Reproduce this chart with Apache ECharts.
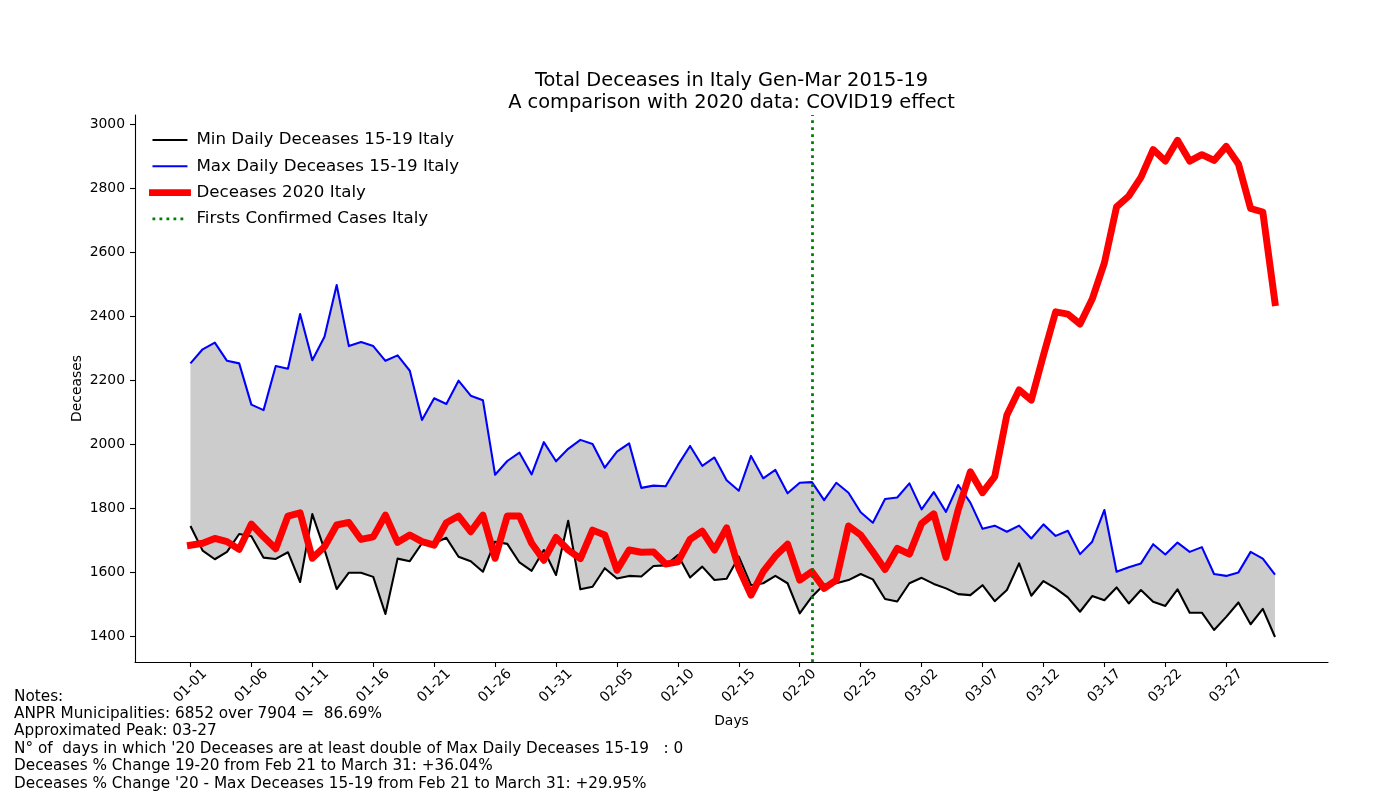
<!DOCTYPE html>
<html>
<head>
<meta charset="utf-8">
<script src="https://cdn.jsdelivr.net/npm/echarts@6/dist/echarts.min.js"></script>
<style>html,body{margin:0;padding:0;background:#fff}#c{width:1400px;height:800px}</style>
</head>
<body>
<div id="c"></div>
<script>
const days = ['01-01','01-02','01-03','01-04','01-05','01-06','01-07','01-08','01-09','01-10',
'01-11','01-12','01-13','01-14','01-15','01-16','01-17','01-18','01-19','01-20',
'01-21','01-22','01-23','01-24','01-25','01-26','01-27','01-28','01-29','01-30','01-31',
'02-01','02-02','02-03','02-04','02-05','02-06','02-07','02-08','02-09','02-10',
'02-11','02-12','02-13','02-14','02-15','02-16','02-17','02-18','02-19','02-20',
'02-21','02-22','02-23','02-24','02-25','02-26','02-27','02-28',
'03-01','03-02','03-03','03-04','03-05','03-06','03-07','03-08','03-09','03-10',
'03-11','03-12','03-13','03-14','03-15','03-16','03-17','03-18','03-19','03-20',
'03-21','03-22','03-23','03-24','03-25','03-26','03-27','03-28','03-29','03-30','03-31'];

const minDaily = [1744,1667,1640,1663,1719,1712,1645,1641,1662,1569,
1781,1670,1547,1598,1598,1585,1469,1642,1634,1690,
1690,1707,1648,1634,1601,1695,1688,1630,1604,1669,
1591,1760,1546,1554,1612,1580,1588,1586,1619,1621,
1653,1583,1617,1575,1579,1648,1559,1565,1588,1565,
1471,1523,1561,1565,1575,1594,1577,1516,1508,1565,
1582,1563,1549,1531,1528,1559,1509,1544,1627,1526,
1572,1549,1521,1476,1525,1512,1552,1502,1544,1507,
1494,1546,1473,1473,1419,1460,1505,1437,1485,1397];

const maxDaily = [2252,2296,2317,2260,2252,2123,2106,2244,2235,2406,
2262,2335,2497,2306,2319,2306,2260,2277,2229,2075,
2143,2125,2198,2151,2137,1904,1947,1973,1905,2006,
1946,1985,2013,2000,1926,1976,2002,1863,1870,1868,
1934,1994,1932,1958,1887,1854,1963,1893,1919,1846,
1879,1881,1825,1879,1848,1787,1754,1828,1833,1877,
1796,1850,1788,1872,1817,1735,1745,1726,1745,1705,
1749,1713,1729,1656,1695,1794,1601,1615,1627,1687,
1655,1692,1663,1678,1594,1588,1599,1663,1642,1592];

const deceases2020 = [1684,1690,1705,1695,1671,1750,1710,1673,1775,1785,
1643,1679,1747,1755,1702,1710,1778,1693,1716,1695,
1684,1754,1775,1726,1778,1643,1775,1775,1690,1637,
1708,1669,1642,1731,1716,1606,1669,1662,1663,1625,
1632,1702,1728,1669,1738,1612,1528,1601,1650,1687,
1575,1601,1549,1575,1744,1716,1663,1608,1674,1656,
1752,1782,1646,1794,1913,1848,1898,2091,2169,2137,
2278,2413,2406,2375,2453,2566,2741,2775,2833,2920,
2884,2949,2884,2904,2886,2930,2875,2736,2725,2442];

const firstCasesDay = '02-21';
const yTicks = [1400,1600,1800,2000,2200,2400,2600,2800,3000];
const xTickIdx = days.map((d,i)=>i).filter(i => i % 5 === 0 && i <= 85);

const titleLines = ['Total Deceases in Italy Gen-Mar 2015-19','A comparison with 2020 data: COVID19 effect'];
const notes = ['Notes:',
'ANPR Municipalities: 6852 over 7904 =  86.69%',
'Approximated Peak: 03-27',
"N\u00b0 of  days in which '20 Deceases are at least double of Max Daily Deceases 15-19   : 0",
'Deceases % Change 19-20 from Feb 21 to March 31: +36.04%',
"Deceases % Change '20 - Max Deceases 15-19 from Feb 21 to March 31: +29.95%"];

const FONT = 'DejaVu Sans';
const pts = arr => arr.map((v,i)=>[i,v]);
const chart = echarts.init(document.getElementById('c'), null, {renderer:'canvas'});
const firstIdx = days.indexOf(firstCasesDay);
const hidden = {opacity: 0, color: 'rgba(0,0,0,0)', borderWidth: 0};

chart.setOption({
  animation: false,
  backgroundColor: '#fff',
  textStyle: {fontFamily: FONT},
  grid: {left: 135, right: 72, top: 115, bottom: 138, containLabel: false},
  graphic: [
    {type:'text', x: 731.5, y: 92, style: {text: titleLines.join('\n'), fill:'#000', font: '19.4px "DejaVu Sans"', align:'center', verticalAlign:'middle', lineHeight: 22.5}},
    {type:'text', x: 14, y: 688, style: {text: notes.join('\n'), fill:'#000', font: '15.28px "DejaVu Sans"', align:'left', verticalAlign:'top', lineHeight: 17.4}}
  ],
  legend: {
    left: 149, top: 130, padding: 0, orient: 'vertical', itemWidth: 35, itemHeight: 12, itemGap: 6.3,
    itemStyle: hidden,
    data: [
      {name:'Min Daily Deceases 15-19 Italy', itemStyle: hidden, lineStyle:{width:2.08, color:'#000'}},
      {name:'Max Daily Deceases 15-19 Italy', itemStyle: hidden, lineStyle:{width:2.08, color:'#0000ff'}},
      {name:'Deceases 2020 Italy', itemStyle: hidden, lineStyle:{width:6.94, color:'#ff0000'}},
      {name:'Firsts Confirmed Cases Italy', itemStyle: hidden, lineStyle:{width:2.78, color:'#008000', type:[2.8,4.2]}}
    ],
    textStyle: {fontFamily: FONT, fontSize: 16.67, color:'#000', lineHeight: 20, padding:[0,0,0,4]},
    selectedMode: false
  },
  xAxis: {
    type: 'value', min: -4.55, max: 93.35,
    name: 'Days', nameLocation: 'middle', nameGap: 52,
    nameTextStyle: {fontFamily: FONT, fontSize: 13.9, color:'#000'},
    axisLine: {show: true, onZero: false, lineStyle: {color:'#000', width: 1.1}},
    axisTick: {show: true, customValues: xTickIdx, length: 5, lineStyle: {color:'#000', width: 1.1}},
    axisLabel: {show: true, customValues: xTickIdx, formatter: v => days[Math.round(v)] || '',
      rotate: 45, align: 'center', verticalAlign: 'middle', margin: 24,
      fontFamily: FONT, fontSize: 13.9, color:'#000'},
    splitLine: {show: false}
  },
  yAxis: {
    type: 'value', min: 1319, max: 3028,
    name: 'Deceases', nameLocation: 'middle', nameGap: 51, nameRotate: 90, nameMoveOverlap: false,
    nameTextStyle: {fontFamily: FONT, fontSize: 13.9, color:'#000'},
    axisLine: {show: true, onZero: false, lineStyle: {color:'#000', width: 1.1}},
    axisTick: {show: true, customValues: yTicks, length: 5, lineStyle: {color:'#000', width: 1.1}},
    axisLabel: {show: true, customValues: yTicks, formatter: v => String(v), margin: 10, fontFamily: FONT, fontSize: 13.9, color:'#000'},
    splitLine: {show: false}
  },
  series: [
    {name:'band', type:'custom', silent:true, z:1,
      data: maxDaily.map((v,i)=>[i, minDaily[i], v]),
      encode: {x: 0, y: [1, 2]},
      renderItem: function (params, api) {
        if (params.dataIndex !== 0) return null;
        const top = maxDaily.map((v,i)=>api.coord([i, v]));
        const bottom = minDaily.map((v,i)=>api.coord([i, v])).reverse();
        return {type:'polygon', shape:{points: top.concat(bottom)}, style:{fill:'#cccccc', stroke:null}};
      }},
    {name:'Min Daily Deceases 15-19 Italy', type:'line', data: pts(minDaily), symbol:'none',
      lineStyle:{color:'#000000', width:2.08, join:'round'}, itemStyle:{color:'#000'}, z:3},
    {name:'Max Daily Deceases 15-19 Italy', type:'line', data: pts(maxDaily), symbol:'none',
      lineStyle:{color:'#0000ff', width:2.08, join:'round'}, itemStyle:{color:'#0000ff'}, z:3},
    {name:'Deceases 2020 Italy', type:'line', data: pts(deceases2020), symbol:'none',
      lineStyle:{color:'#ff0000', width:6.94, join:'round', cap:'square'}, itemStyle:{color:'#ff0000'}, z:4},
    {name:'Firsts Confirmed Cases Italy', type:'line', data: [], symbol:'none',
      lineStyle:{color:'#008000', width:2.78, type:[2.8,4.2]}, itemStyle:{color:'#008000'}, z:5,
      markLine:{silent:true, symbol:['none','none'], label:{show:false},
        lineStyle:{color:'#008000', width:2.78, type:[2.8,4.2]},
        data:[{xAxis: firstIdx}]}}
  ]
});
</script>
</body>
</html>
